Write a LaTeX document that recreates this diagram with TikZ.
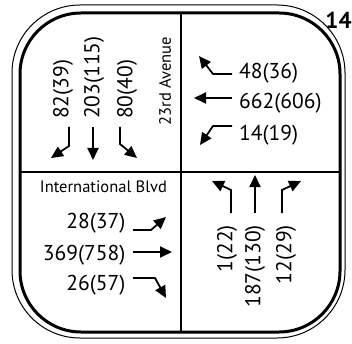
\documentclass[tikz,border=0pt]{standalone}
\usepackage{fontspec}
\setmainfont{PT Sans}
\usetikzlibrary{arrows.meta}
\begin{document}
\begin{tikzpicture}[x=1pt,y=-1pt,
  flow/.style={line width=1.8pt,-{Triangle[length=12pt,width=11pt]}},
  vol/.style={font=\fontsize{21.5}{21.5}\selectfont, inner sep=0pt},
  street/.style={font=\fontsize{16.5}{16.5}\selectfont, inner sep=0pt},
  frame/.style={line width=3pt},
  divider/.style={line width=2.5pt}]
\useasboundingbox (0,0) rectangle (352,344);
% double rounded frame
\draw[line width=1pt, rounded corners=68] (12,5) rectangle (345,338);
\draw[frame, rounded corners=61] (20,13) rectangle (340,332);
% street cross
\coordinate (W) at (20,172);
\coordinate (E) at (340,172);
\coordinate (N) at (181,13);
\coordinate (S) at (181,332);
\draw[divider] (W) -- (E);
\draw[divider] (N) -- (S);
% intersection number
\node[font=\fontsize{23}{23}\selectfont\bfseries, inner sep=0pt] (id) at (338.5,20) {14};
% street names
\node[street, rotate=90] (ave) at (165,81) {23rd Avenue};
\node[street] (blvd) at (103.5,187) {International Blvd};
% southbound
\node[vol, rotate=90, anchor=west] (sbR) at (63,119) {82(39)};
\node[vol, rotate=90, anchor=west] (sbT) at (94,119) {203(115)};
\node[vol, rotate=90, anchor=west] (sbL) at (127,119) {80(40)};
\draw[flow] (69,127) -- (69,146) -- (51,158);
\draw[flow] (93,127) -- (93,160);
\draw[flow] (120,127) -- (120,144) -- (137,158);
% westbound
\node[vol, anchor=west] (wbR) at (239,73) {48(36)};
\node[vol, anchor=west] (wbT) at (239,103) {662(606)};
\node[vol, anchor=west] (wbL) at (239,135) {14(19)};
\draw[flow] (232,74) -- (213,74) -- (199,56);
\draw[flow] (232,98) -- (194,98);
\draw[flow] (232,126) -- (213,126) -- (200,145);
% eastbound
\node[vol, anchor=east] (ebL) at (125.5,223) {28(37)};
\node[vol, anchor=east] (ebT) at (125.5,255) {369(758)};
\node[vol, anchor=east] (ebR) at (125.5,285) {26(57)};
\draw[flow] (133,230) -- (151,230) -- (166,217);
\draw[flow] (133,252) -- (172,252);
\draw[flow] (133,278) -- (155,278) -- (166,298);
% northbound
\node[vol, rotate=90, anchor=east] (nbL) at (227,225) {1(22)};
\node[vol, rotate=90, anchor=east] (nbT) at (255,225) {187(130)};
\node[vol, rotate=90, anchor=east] (nbR) at (286,225) {12(29)};
\draw[flow] (231,213) -- (231,190) -- (212,181);
\draw[flow] (255,213) -- (255,175);
\draw[flow] (282,213) -- (282,190) -- (301,181);
\end{tikzpicture}
\end{document}
